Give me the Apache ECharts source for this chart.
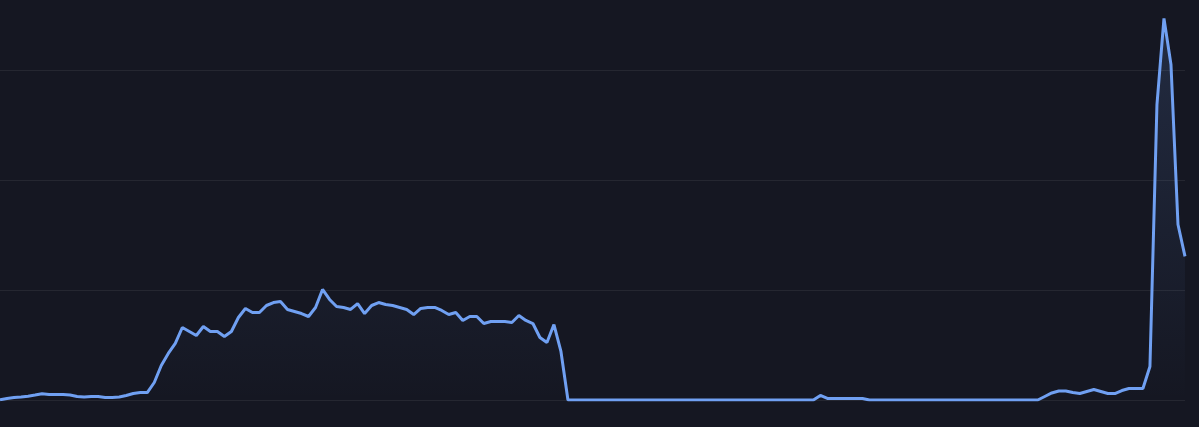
<!DOCTYPE html>
<html>
<head>
<meta charset="utf-8">
<script src="https://cdn.jsdelivr.net/npm/echarts@6/dist/echarts.min.js"></script>
<style>
  html, body { margin: 0; padding: 0; background: #151722; }
  #chart { width: 1199px; height: 427px; }
</style>
</head>
<body>
<div id="chart"></div>
<script>
// values, one per step
const values = [
  0.3, 1.4, 2.3, 2.7, 3.5, 4.5, 5.7, 5.0, 5.0, 5.0,
  4.5, 3.2, 2.7, 3.2, 3.2, 2.3, 2.3, 2.7, 4.1, 5.9,
  6.8, 6.8, 15.9, 31.4, 42.3, 51.4, 65.9, 62.3, 58.6, 66.8,
  62.3, 62.3, 57.7, 62.3, 75.0, 83.2, 79.5, 79.5, 85.9, 88.6,
  89.5, 82.3, 80.5, 78.6, 75.9, 84.1, 100.5, 91.4, 85.0, 84.1,
  82.3, 87.7, 78.6, 85.9, 88.6, 86.8, 85.9, 84.1, 82.3, 77.7,
  83.2, 84.1, 84.1, 81.4, 77.7, 79.5, 72.3, 75.9, 75.9, 69.5,
  71.4, 71.4, 71.4, 70.5, 76.8, 72.3, 69.5, 56.8, 52.3, 68.6,
  44.1,
  0, 0, 0, 0, 0, 0, 0, 0, 0, 0, 0, 0,
  0, 0, 0, 0, 0, 0, 0, 0, 0, 0, 0, 0,
  0, 0, 0, 0, 0, 0, 0, 0, 0, 0, 0, 0,
  4.1,
  1.4, 1.4, 1.4, 1.4, 1.4, 1.4,
  0, 0, 0, 0, 0, 0, 0, 0, 0, 0, 0, 0, 0,
  0, 0, 0, 0, 0, 0, 0, 0, 0, 0, 0, 0,
  3.2, 6.4, 8.2, 8.2, 6.8, 5.9, 7.7, 9.5, 7.7, 5.9,
  5.9, 8.6, 10.5, 10.5, 10.5, 30.5, 268.6, 346.8, 305.0, 159.5,
  130.5
];
const categories = values.map((v, i) => String(i));

const chart = echarts.init(document.getElementById('chart'));
chart.setOption({
  backgroundColor: '#151722',
  animation: false,
  grid: { left: 0, right: 14, top: 0, bottom: 27 },
  xAxis: {
    type: 'category',
    data: categories,
    boundaryGap: false,
    axisLine: { show: false },
    axisTick: { show: false },
    axisLabel: { show: false }
  },
  yAxis: {
    type: 'value',
    min: 0,
    max: 363.6,
    interval: 100,
    axisLabel: { show: false },
    splitLine: {
      showMaxLine: false,
      lineStyle: { color: 'rgba(255,255,255,0.07)', width: 1 }
    }
  },
  series: [
    {
      type: 'line',
      data: values,
      symbol: 'none',
      lineStyle: { color: '#70a0f2', width: 3 },
      areaStyle: {
        color: new echarts.graphic.LinearGradient(0, 0, 0, 1, [
          { offset: 0, color: 'rgba(109,156,240,0.22)' },
          { offset: 1, color: 'rgba(109,156,240,0.0)' }
        ])
      }
    }
  ]
});
</script>
</body>
</html>
